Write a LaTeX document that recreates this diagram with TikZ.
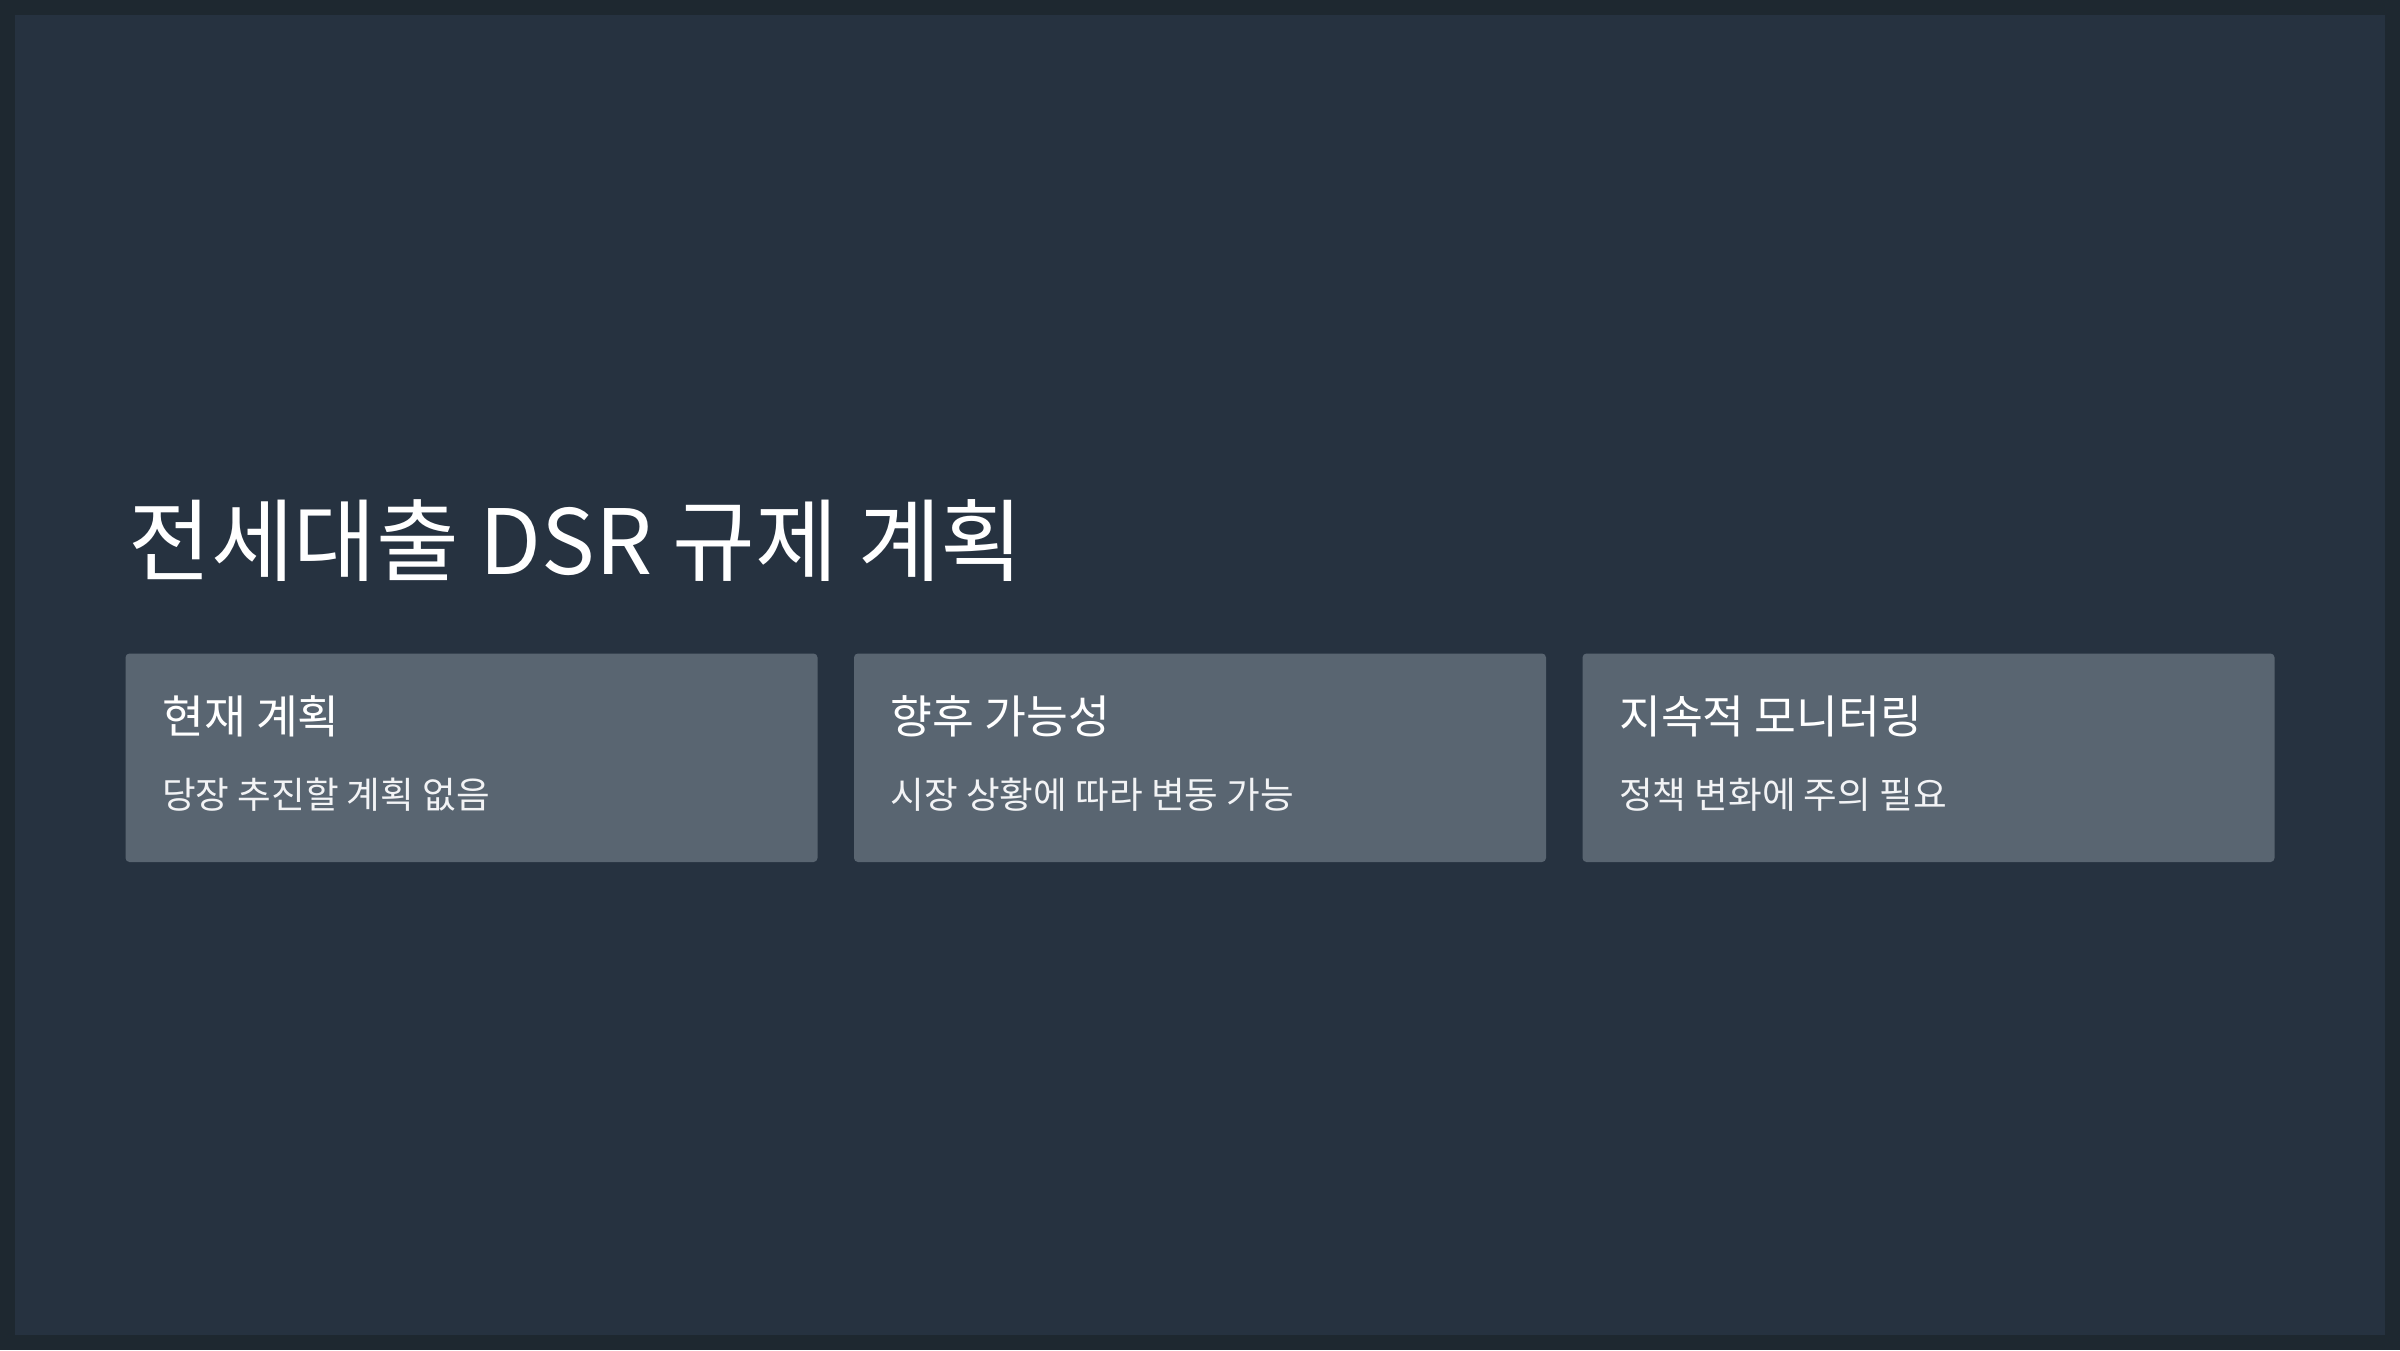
\documentclass[tikz,border=0pt]{standalone}
\usepackage{fontspec}
\setmainfont{Noto Sans CJK KR}
\newfontfamily\kr{Noto Sans CJK KR}
\definecolor{framec}{HTML}{1E2830}
\definecolor{bgc}{HTML}{263240}
\definecolor{boxc}{HTML}{596571}
\definecolor{txtc}{HTML}{FFFFFF}
\definecolor{bodyc}{HTML}{F2F3F5}
\tikzset{
  card/.style={fill=boxc, rounded corners=4pt, draw=none},
  ttl/.style={anchor=base west, inner sep=0pt, text=txtc, font=\kr\fontsize{90}{100}\selectfont},
  head/.style={anchor=base west, inner sep=0pt, text=txtc, font=\kr\fontsize{45.5}{52}\selectfont},
  body/.style={anchor=base west, inner sep=0pt, text=bodyc, font=\kr\fontsize{36.6}{42}\selectfont}
}
\begin{document}
\begin{tikzpicture}[x=1pt,y=-1pt]
\useasboundingbox (0,0) rectangle (2400,1350);
\fill[framec] (0,0) rectangle (2400,1350);
\fill[bgc] (15,15) rectangle (2385,1335);
\node[ttl] (title) at (128,574) {전세대출 DSR 규제 계획};
\fill[card] (125.5,653.5) rectangle (817.5,862) coordinate (c1);
\fill[card] (854,653.5) rectangle (1546,862) coordinate (c2);
\fill[card] (1582.5,653.5) rectangle (2274.5,862) coordinate (c3);
\node[head] (h1) at (162,733) {현재 계획};
\node[body] (b1) at (162,808) {당장 추진할 계획 없음};
\node[head] (h2) at (890.5,733) {향후 가능성};
\node[body] (b2) at (890.5,808) {시장 상황에 따라 변동 가능};
\node[head] (h3) at (1619,733) {지속적 모니터링};
\node[body] (b3) at (1619,808) {정책 변화에 주의 필요};
\end{tikzpicture}
\end{document}
